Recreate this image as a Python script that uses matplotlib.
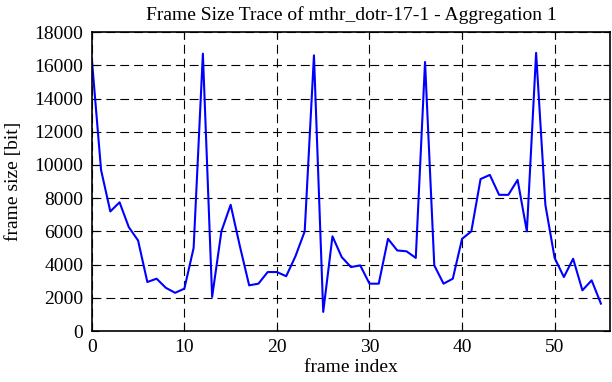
import numpy as np
import matplotlib
matplotlib.use("Agg")
import matplotlib.pyplot as plt

plt.rcParams['font.family'] = ['Liberation Serif', 'DejaVu Serif']

# frame sizes (bits)
frame_size = [16400, 9700, 7200, 7750, 6250, 5450, 2950, 3150, 2600, 2300,
              2550, 5000, 16700, 2050, 6000, 7600, 5100, 2750, 2850, 3550,
              3550, 3300, 4500, 6000, 16600, 1150, 5700, 4450, 3850, 3950,
              2850, 2850, 5550, 4850, 4800, 4400, 16200, 3950, 2850, 3150,
              5550, 6000, 9150, 9400, 8200, 8200, 9100, 6000, 16750, 7600,
              4400, 3250, 4350, 2450, 3050, 1650]
frame_index = np.arange(len(frame_size))

fig = plt.figure(figsize=(6.12, 3.82), dpi=100)
ax = fig.add_axes([0.150, 0.1335, 0.847, 0.7825])
ax.plot(frame_index, frame_size, color="#0000ff", lw=1.5)

ax.set_xlim(0, 56)
ax.set_ylim(0, 18000)
ax.set_xticks(range(0, 51, 10))
ax.set_yticks(range(0, 18001, 2000))
ax.grid(True, color="black", linestyle=(0, (8, 4.5)), linewidth=0.8)
ax.tick_params(direction="in", labelsize=14, length=5, top=True, right=True)
ax.tick_params(axis="y", pad=6)
ax.tick_params(axis="x", pad=6)
for s in ax.spines.values():
    s.set_linewidth(1.2)

ax.set_xlabel("frame index", fontsize=14, labelpad=2)
ax.set_ylabel("frame size [bit]", fontsize=14, labelpad=9)
ax.set_title("Frame Size Trace of mthr_dotr-17-1 - Aggregation 1", fontsize=14, pad=9)

fig.savefig("out.png", dpi=100)
